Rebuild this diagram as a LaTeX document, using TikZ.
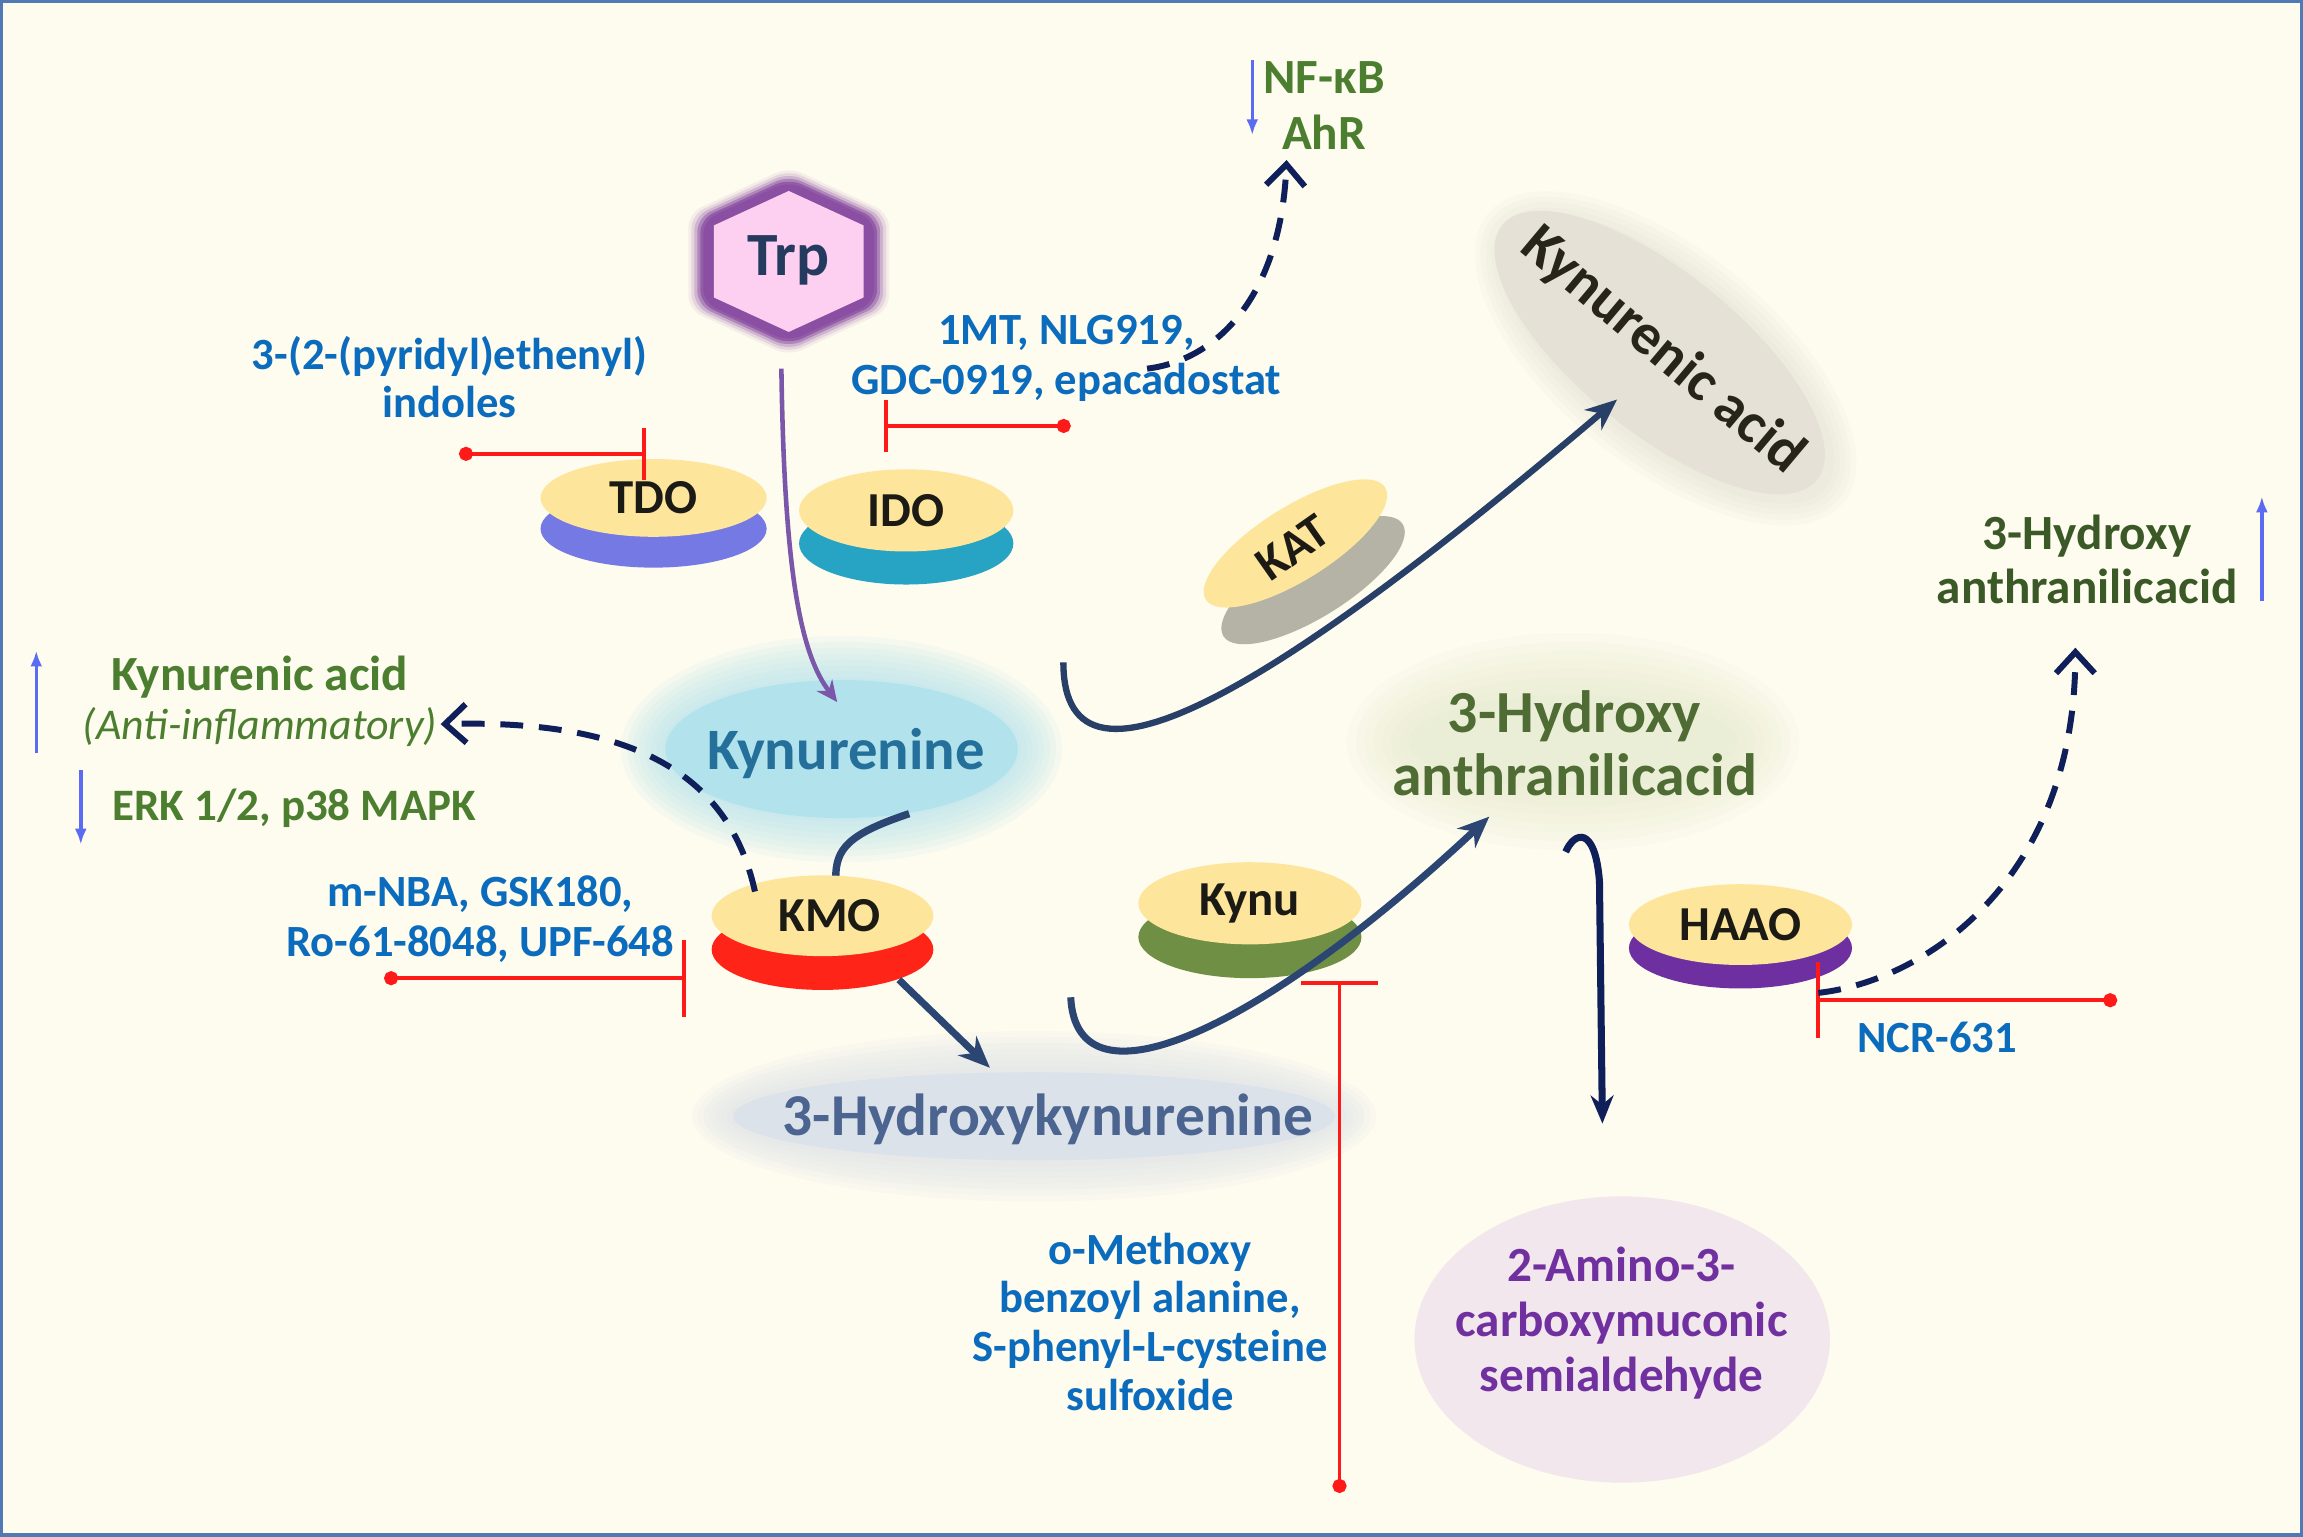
\documentclass[tikz,border=0pt]{standalone}
\usepackage{fontspec}
\setmainfont{Carlito}
\usetikzlibrary{arrows.meta,shapes.geometric}
\newcommand\fsz[2]{\fontsize{#1}{#2}\selectfont}
\definecolor{bg}{HTML}{FEFBEF}
\definecolor{framec}{HTML}{4F7AB4}
\definecolor{inhblue}{HTML}{0B6CBD}
\definecolor{inhred}{HTML}{FF1A1A}
\definecolor{gtxt}{HTML}{4C7E30}
\definecolor{haatxt}{HTML}{4E6C33}
\definecolor{haartxt}{HTML}{3B5926}
\definecolor{navyc}{HTML}{2C4674}
\definecolor{dnavy}{HTML}{0F1F5A}
\definecolor{upblue}{HTML}{5B6BF2}
\definecolor{yel}{HTML}{FDE69C}
\definecolor{tdob}{HTML}{7479E4}
\definecolor{idob}{HTML}{27A3C4}
\definecolor{kmob}{HTML}{FF2418}
\definecolor{kynub}{HTML}{6E8F44}
\definecolor{haaob}{HTML}{6E2FA0}
\definecolor{katb}{HTML}{B5B2A6}
\definecolor{kyncore}{HTML}{B2E3EC}
\definecolor{kyntext}{HTML}{24709A}
\definecolor{hkcore}{HTML}{DCE2E9}
\definecolor{hktext}{HTML}{4C6490}
\definecolor{haaglow}{HTML}{E2E8C8}
\definecolor{kynacore}{HTML}{E5E1D6}
\definecolor{kynashadow}{HTML}{D2CEC2}
\definecolor{kynatext}{HTML}{27241A}
\definecolor{acmsfill}{HTML}{F1E7EC}
\definecolor{acmstext}{HTML}{7030A0}
\definecolor{trppink}{HTML}{FDD0F2}
\definecolor{trpglow}{HTML}{8A4FA2}
\definecolor{trptext}{HTML}{243A5E}
\definecolor{trpline}{HTML}{7B57AA}
\definecolor{etext}{HTML}{1C1A14}
\begin{document}
\begin{tikzpicture}[x=0.014687cm,y=-0.014687cm,
  inh/.style={text=inhblue, font=\bfseries\fsz{12.7}{14}, align=center, inner sep=0pt},
  enzt/.style={ellipse, fill=yel, inner sep=0pt, font=\bfseries\fsz{13.9}{16}, text=etext},
  enzb/.style={ellipse, inner sep=0pt},
  redinh/.style={draw=inhred, line width=1.1pt, arrows={Circle[length=4pt]-Bar[width=#1]}},
  dashar/.style={draw=dnavy, line width=1.7pt, dash pattern=on 6.5pt off 4.5pt, arrows={-Straight Barb[length=6pt,width=11pt]}},
  solar/.style={draw=navyc, line width=2pt, arrows={-Stealth[length=9pt,width=7.5pt]}},
  upar/.style={draw=upblue, line width=1pt, arrows={-Latex[length=4.5pt,width=3.4pt]}},
  gtext/.style={text=gtxt, font=\bfseries\fsz{14}{15.9}, align=center, inner sep=0pt},
  txt/.style={inner sep=0pt, align=center}
]
\useasboundingbox (0,0) rectangle (1568,1046);
\fill[bg] (0,0) rectangle (1568,1046);

% ---- glows ----
\foreach \k in {30,26,...,2} \fill[kyncore,opacity=0.12] (573,510) ellipse [x radius=120+\k, y radius=47+\k];
\foreach \k in {28,24,...,4} \fill[hkcore,opacity=0.12] (704,760) ellipse [x radius=205+\k, y radius=30+\k];
\foreach \k in {44,38,...,2} \fill[haaglow,opacity=0.10] (1071,505) ellipse [x radius=110+\k, y radius=30+\k];
\foreach \k in {20,16,12,8,4} \fill[kynashadow,opacity=0.08,rotate around={-39:(1134,244)}] (1134,244) ellipse [x radius=136+\k, y radius=54+\k];

% ---- Trp hexagon ----
\foreach \s/\o in {1.34/0.08,1.30/0.14,1.26/0.25,1.22/0.45,1.18/0.75,1.14/1}
  \fill[trpglow,opacity=\o,rounded corners=4pt,shift={(537,178)},scale=\s]
    (0,-48) -- (51,-24.5) -- (51,24.5) -- (0,48) -- (-51,24.5) -- (-51,-24.5) -- cycle;
\fill[trppink,shift={(537,178)}] (0,-48) -- (51,-24.5) -- (51,24.5) -- (0,48) -- (-51,24.5) -- (-51,-24.5) -- cycle;
\node[txt, font=\bfseries\fsz{17.5}{18}, text=trptext] (trp) at (537,177) {Trp};

% ---- metabolite nodes ----
\node[ellipse, fill=kyncore, minimum width=3.525cm, minimum height=1.381cm, inner sep=0pt] (kyn) at (573,510) {};
\node[txt, text=kyntext, font=\bfseries\fsz{16.7}{18}] (kyntxt) at (576,513) {Kynurenine};
\node[ellipse, fill=hkcore, minimum width=6.022cm, minimum height=0.881cm, inner sep=0pt] (hk) at (704,760) {};
\node[txt, text=hktext, font=\bfseries\fsz{16.9}{18}] (hktxt) at (713.5,762) {3-Hydroxykynurenine};
\node[ellipse, rotate=-39, fill=kynacore, minimum width=4.05cm, minimum height=1.6cm, inner sep=0pt] (kyna) at (1130,240) {};
\node[txt, rotate=-40, text=kynatext, font=\bfseries\fsz{16.5}{18}] (kynatxt) at (1132,239) {Kynurenic acid};
\node[txt, text=haatxt, font=\bfseries\fsz{17}{17.8}] (haa) at (1072,506) {3-Hydroxy\\anthranilicacid};
\node[ellipse, fill=acmsfill, minimum width=4.156cm, minimum height=2.864cm, inner sep=0pt] (acms) at (1104.5,912) {};
\node[txt, text=acmstext, font=\bfseries\fsz{14}{15.7}] (acmstxt) at (1104,901) {2-Amino-3-\\carboxymuconic\\semialdehyde};

% ---- connectors under enzymes ----
\coordinate (trpout) at (532,251);
\coordinate (kynin) at (570,478);
\coordinate (kynout) at (619,554);
\coordinate (kmoin) at (569,598);
\draw[navyc, line width=2.1pt] (kynout) .. controls (577,568) and (569,578) .. (kmoin);

% ---- enzymes ----
\node[enzb, fill=tdob, minimum width=2.262cm, minimum height=0.778cm] (tdob) at (445,360) {};
\node[enzt, minimum width=2.262cm, minimum height=0.778cm] (tdo) at (445,339) {TDO};
\node[enzb, fill=idob, minimum width=2.144cm, minimum height=0.822cm] (idob) at (617,370) {};
\node[enzt, minimum width=2.144cm, minimum height=0.822cm] (ido) at (617,347.5) {IDO};
\node[enzb, fill=kmob, minimum width=2.218cm, minimum height=0.808cm] (kmob) at (560,646.5) {};
\node[enzt, minimum width=2.218cm, minimum height=0.808cm] (kmo) at (560,623.5) {\hspace*{4pt}KMO};
\node[enzb, fill=kynub, minimum width=2.232cm, minimum height=0.822cm] (kynub) at (851,638) {};
\node[enzt, minimum width=2.232cm, minimum height=0.822cm] (kynu) at (851,615) {Kynu};
\node[enzb, fill=haaob, minimum width=2.232cm, minimum height=0.808cm] (haaob) at (1185,645.5) {};
\node[enzt, minimum width=2.232cm, minimum height=0.808cm] (haao) at (1185,629.5) {HAAO};
\node[enzb, fill=katb, rotate=32, minimum width=2.115cm, minimum height=0.734cm] (katb) at (894,395) {};
\node[enzt, rotate=32, minimum width=2.115cm, minimum height=0.734cm] (kat) at (882,370) {};
\node[txt, rotate=35, font=\bfseries\fsz{13.9}{16}, text=etext] (kattxt) at (880,373) {KAT};

% ---- pathway connectors ----
\draw[trpline, line width=1.3pt, -{Stealth[length=6pt,width=5.5pt]}] (trpout) .. controls (534,390) and (545,445) .. (kynin);
\coordinate (kmoout) at (612,667);
\coordinate (hkin) at (674,727);
\draw[solar] (kmoout) -- (hkin);
\coordinate (hkout) at (729,679);
\coordinate (haain) at (1014,556);
\draw[solar] (hkout) .. controls (733,760) and (860,700) .. (haain);
\coordinate (kynout2) at (724,451);
\coordinate (kynain) at (1101,272);
\draw[solar, draw=navyc!90!black, line width=1.8pt] (kynout2) .. controls (724,560) and (880,460) .. (kynain);
\coordinate (haaout) at (1066,580);
\coordinate (acmsin) at (1091,765);
\draw[solar, draw=dnavy, arrows={-Stealth[length=8pt,width=6.5pt]}] (haaout) .. controls (1072,566) and (1086,562) .. (1089,600) -- (acmsin);

% ---- inhibitor texts ----
\node[inh, font=\bfseries\fsz{12.7}{13.6}] (tdoinh) at (306,257) {3-(2-(pyridyl)ethenyl)\\indoles};
\node[inh] (idoinh) at (726,244) {1MT, NLG919,\\GDC-0919, epacadostat};
\node[inh, font=\bfseries\fsz{12.7}{14.2}] (kmoinh) at (327,626) {m-NBA, GSK180,\\Ro-61-8048, UPF-648};
\node[inh, font=\bfseries\fsz{12.7}{13.9}] (kynuinh) at (783,900) {o-Methoxy\\benzoyl alanine,\\S-phenyl-L-cysteine\\sulfoxide};
\node[inh] (haaoinh) at (1319,706) {NCR-631};

% ---- inhibition bars ----
\coordinate (i1s) at (312.5,309); \coordinate (i1e) at (440,309);
\draw[redinh=15pt] (i1s) -- (i1e);
\coordinate (i2s) at (729,290); \coordinate (i2e) at (602,290);
\draw[redinh=15pt] (i2s) -- (i2e);
\coordinate (i3s) at (261.5,666); \coordinate (i3e) at (467,666);
\draw[redinh=22pt] (i3s) -- (i3e);
\coordinate (i4s) at (912,1016.5); \coordinate (i4e) at (912,668);
\draw[redinh=21.7pt] (i4s) -- (i4e);
\coordinate (i5s) at (1441.5,681); \coordinate (i5e) at (1236.5,681);
\draw[redinh=21.7pt] (i5s) -- (i5e);

% ---- effect labels ----
\node[gtext] (nfkb) at (901.5,72) {NF-κB\\AhR};
\node[gtext] (kynaL) at (177,461) {Kynurenic acid};
\node[txt, text=gtxt, font=\itshape\fsz{12.5}{14}] (anti) at (177,495) {(Anti-inflammatory)};
\node[gtext, anchor=west, font=\bfseries\fsz{12.8}{14}] (erk) at (76,550) {ERK 1/2, p38 MAPK};
\node[txt, text=haartxt, font=\bfseries\fsz{14}{15.3}] (haaR) at (1421,381) {3-Hydroxy\\anthranilicacid};

% ---- dashed effect arrows ----
\coordinate (d1s) at (781,251); \coordinate (d1e) at (876,109);
\draw[dashar] (d1s) .. controls (830,245) and (872,200) .. (d1e);
\coordinate (d2s) at (514,607); \coordinate (d2e) at (300,493);
\draw[dashar] (d2s) .. controls (495,520) and (420,490) .. (d2e);
\coordinate (d3s) at (1238,676); \coordinate (d3e) at (1413,441);
\draw[dashar] (d3s) .. controls (1310,668) and (1413,600) .. (d3e);

% ---- up/down arrows ----
\coordinate (u1s) at (24.7,513); \coordinate (u1e) at (24.7,443);
\draw[upar] (u1s) -- (u1e);
\coordinate (u2s) at (55,524); \coordinate (u2e) at (55,575);
\draw[upar] (u2s) -- (u2e);
\coordinate (u3s) at (852.6,41); \coordinate (u3e) at (852.6,92);
\draw[upar] (u3s) -- (u3e);
\coordinate (u4s) at (1540,409); \coordinate (u4e) at (1540,338);
\draw[upar] (u4s) -- (u4e);

% ---- frame ----
\draw[framec, line width=1pt] (0.8,0.8) rectangle (1567.2,1045.2);
\end{tikzpicture}
\end{document}
